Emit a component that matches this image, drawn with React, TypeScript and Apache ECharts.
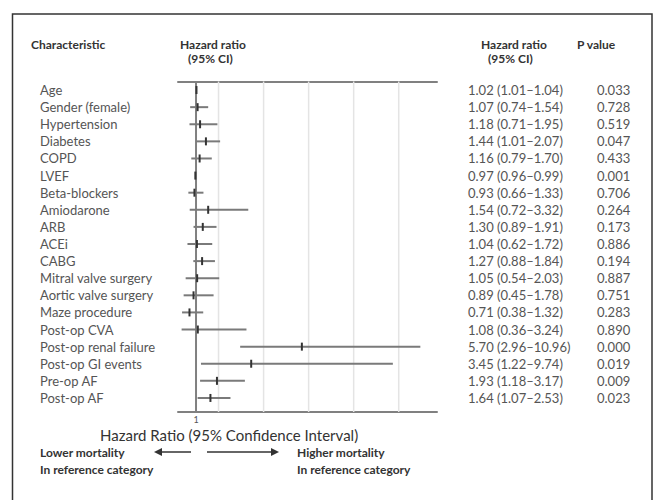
import React, { useEffect, useRef } from 'react';
import * as echarts from 'echarts';

const characteristics = ['Age', 'Gender (female)', 'Hypertension', 'Diabetes', 'COPD', 'LVEF', 'Beta-blockers', 'Amiodarone', 'ARB', 'ACEi', 'CABG', 'Mitral valve surgery', 'Aortic valve surgery', 'Maze procedure', 'Post-op CVA', 'Post-op renal failure', 'Post-op GI events', 'Pre-op AF', 'Post-op AF'];
const hazardRatios = [1.02, 1.07, 1.18, 1.44, 1.16, 0.97, 0.93, 1.54, 1.30, 1.04, 1.27, 1.05, 0.89, 0.71, 1.08, 5.70, 3.45, 1.93, 1.64];
const ciLower = [1.01, 0.74, 0.71, 1.01, 0.79, 0.96, 0.66, 0.72, 0.89, 0.62, 0.88, 0.54, 0.45, 0.38, 0.36, 2.96, 1.22, 1.18, 1.07];
const ciUpper = [1.04, 1.54, 1.95, 2.07, 1.70, 0.99, 1.33, 3.32, 1.91, 1.72, 1.84, 2.03, 1.78, 1.32, 3.24, 10.96, 9.74, 3.17, 2.53];
const pValues = ['0.033', '0.728', '0.519', '0.047', '0.433', '0.001', '0.706', '0.264', '0.173', '0.886', '0.194', '0.887', '0.751', '0.283', '0.890', '0.000', '0.019', '0.009', '0.023'];
const gridValues = [2, 4, 6, 8, 10];
const referenceValue = 1;
const xTickValues = [1];

const FONT = 'Lato, "Open Sans", sans-serif';

export default function App() {
  const ref = useRef<HTMLDivElement>(null);
  useEffect(() => {
    if (!ref.current) return;
    const chart = echarts.init(ref.current, undefined, { renderer: 'svg' });
    const hrTexts = hazardRatios.map((h, i) => `${h.toFixed(2)} (${ciLower[i].toFixed(2)}–${ciUpper[i].toFixed(2)})`);
    const ciData = hazardRatios.map((h, i) => [ciLower[i], ciUpper[i], h, i]);
    const lineData = [...gridValues.map((v) => [v, 0]), [referenceValue, 1]];
    const axisCommon = {
      type: 'value',
      min: 0.2,
      max: 11.7,
      splitLine: { show: false },
      axisTick: { show: false },
      axisLine: { show: true, lineStyle: { color: '#808080', width: 2 } },
    };
    const catAxis = (data: string[], position: string, margin: number) => ({
      type: 'category',
      data,
      inverse: true,
      position,
      axisLine: { show: false },
      axisTick: { show: false },
      splitLine: { show: false },
      axisLabel: { margin, align: 'left', color: '#555', fontSize: 13, fontFamily: FONT },
    });
    const txt = (text: string, x: number, y: number, font: string) => ({
      type: 'text', x, y, style: { text, font, fill: '#333', textVerticalAlign: 'middle' },
    });
    const HB = `bold 12px ${FONT}`;
    const option: any = {
      animation: false,
      backgroundColor: '#ffffff',
      grid: { left: 178, right: 220, top: 81.5, bottom: 93.5, containLabel: false },
      xAxis: [
        {
          ...axisCommon,
          position: 'bottom',
          offset: 5.5,
          axisLabel: { customValues: xTickValues, fontSize: 9, color: '#555', margin: 3, fontFamily: FONT },
        },
        { ...axisCommon, position: 'top', axisLabel: { show: false } },
      ],
      yAxis: [
        catAxis(characteristics, 'left', 138),
        catAxis(hrTexts, 'right', 31),
        catAxis(pValues, 'right', 160),
      ],
      series: [
        {
          type: 'custom',
          clip: false,
          z: 1,
          data: lineData,
          encode: { x: 0 },
          renderItem: (params: any, api: any) => {
            const cs = params.coordSys;
            const x = api.coord([api.value(0), 0])[0];
            const isRef = api.value(1) === 1;
            return {
              type: 'line',
              z2: isRef ? 5 : 1,
              shape: { x1: x, y1: cs.y, x2: x, y2: cs.y + cs.height + 5.5 },
              style: isRef ? { stroke: '#808080', lineWidth: 2 } : { stroke: '#e4e4e4', lineWidth: 1.5 },
            };
          },
        },
        {
          type: 'custom',
          clip: false,
          z: 3,
          data: ciData,
          encode: { x: [0, 1, 2], y: 3 },
          renderItem: (params: any, api: any) => {
            const row = api.value(3);
            const p1 = api.coord([api.value(0), row]);
            const p2 = api.coord([api.value(1), row]);
            const ph = api.coord([api.value(2), row]);
            return {
              type: 'group',
              children: [
                { type: 'line', shape: { x1: p1[0], y1: p1[1], x2: p2[0], y2: p2[1] }, style: { stroke: '#7a7a7a', lineWidth: 2 } },
                { type: 'line', shape: { x1: ph[0], y1: ph[1] - 4, x2: ph[0], y2: ph[1] + 4 }, style: { stroke: '#333333', lineWidth: 2 } },
              ],
            };
          },
        },
      ],
      graphic: [
        { type: 'rect', shape: { x: 12.5, y: 14, width: 639.5, height: 520 }, style: { fill: 'none', stroke: '#333', lineWidth: 1.5 } },
        txt('Characteristic', 31, 44, HB),
        txt('Hazard ratio', 180, 44, HB),
        txt('(95% CI)', 188, 58, HB),
        txt('Hazard ratio', 481, 44, HB),
        txt('(95% CI)', 488, 58, HB),
        txt('P value', 577, 44, HB),
        txt('Hazard Ratio (95% Confidence Interval)', 100, 435, `15px ${FONT}`),
        txt('Lower mortality', 40, 452, HB),
        txt('In reference category', 40, 469, HB),
        txt('Higher mortality', 297, 452, HB),
        txt('In reference category', 297, 469, HB),
        { type: 'line', shape: { x1: 191, y1: 452, x2: 160, y2: 452 }, style: { stroke: '#333', lineWidth: 1.5 } },
        { type: 'polygon', shape: { points: [[154, 452], [162, 448], [162, 456]] }, style: { fill: '#333' } },
        { type: 'line', shape: { x1: 207, y1: 452, x2: 273, y2: 452 }, style: { stroke: '#333', lineWidth: 1.5 } },
        { type: 'polygon', shape: { points: [[279, 452], [271, 448], [271, 456]] }, style: { fill: '#333' } },
      ],
    };
    chart.setOption(option);
    return () => chart.dispose();
  }, []);
  return (
    <div
      ref={ref}
      style={{ position: 'fixed', left: 0, top: 0, width: 657, height: 500, background: '#fff' }}
    />
  );
}
